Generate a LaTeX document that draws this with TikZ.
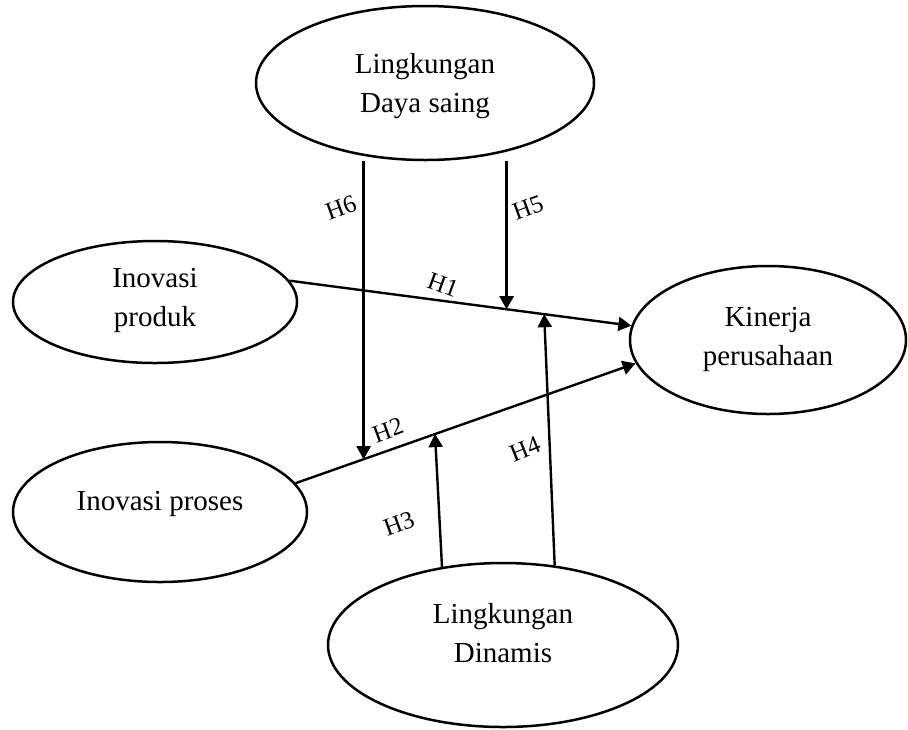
\documentclass[tikz,border=0pt]{standalone}
\usepackage{fontspec}
\setmainfont{Liberation Serif}
\usetikzlibrary{arrows.meta}
\usetikzlibrary{shapes}
\newcommand{\liftedtext}[2]{\raisebox{#1}[\height][\depth]{\begin{tabular}{@{}c@{}}#2\end{tabular}}}
\tikzset{
        varnode/.style={align=center,inner sep=0pt},
        % Variables (ellipses)
        node_var/.style={varnode, ellipse, draw=black, line width=1.25pt, fill=white, font=\fontsize{14.5}{19.5}\selectfont},
        % Hypothesis labels
        node_hyp/.style={inner sep=0pt, font=\fontsize{12.5}{15}\selectfont}
}

\begin{document}
\begin{tikzpicture}[
            x=0.5pt, y=-0.5pt,
            >={Triangle[length=6.5pt,width=7pt]},
            line width=1.2pt
        ]
            \useasboundingbox (0,0) rectangle (908,729);

            \node[node_var, minimum width=169pt, minimum height=77pt] (daya) at (425,83) {\liftedtext{-1pt}{Lingkungan\\Daya saing}};
            \node[node_var, minimum width=142pt, minimum height=61pt] (produk) at (155,302) {\liftedtext{1.5pt}{Inovasi\\produk}};
            \node[node_var, minimum width=147pt, minimum height=70pt] (proses) at (160,512) {\liftedtext{4.5pt}{Inovasi proses}};
            \node[node_var, minimum width=138pt, minimum height=74pt] (kinerja) at (768,340) {\liftedtext{1pt}{Kinerja\\perusahaan}};
            \node[node_var, minimum width=175pt, minimum height=82pt] (dinamis) at (503,645) {\liftedtext{5pt}{Lingkungan\\Dinamis}};

            % direct effects
            \draw[->] (produk.9) -- coordinate[pos=0.635] (p5) coordinate[pos=0.745] (p4) (kinerja.174);
            \draw[->] (proses.12) -- coordinate[pos=0.2] (p6) coordinate[pos=0.41] (p3) (kinerja.190);

            % moderating effects
            \draw[->] (daya.south -| p6) -- (p6);
            \draw[->] (daya.south -| p5) -- (p5);
            \draw[->] (dinamis.128) -- (p3);
            \draw[->] (dinamis.57) -- (p4);

            \node[node_hyp, rotate=-20] (h1) at (443,285) {H1};
            \node[node_hyp, rotate=20] (h2) at (388,430) {H2};
            \node[node_hyp, rotate=20] (h3) at (399,524) {H3};
            \node[node_hyp, rotate=22] (h4) at (525,449) {H4};
            \node[node_hyp, rotate=20] (h5) at (528,208) {H5};
            \node[node_hyp, rotate=20] (h6) at (341,208) {H6};
        \end{tikzpicture}
\end{document}
